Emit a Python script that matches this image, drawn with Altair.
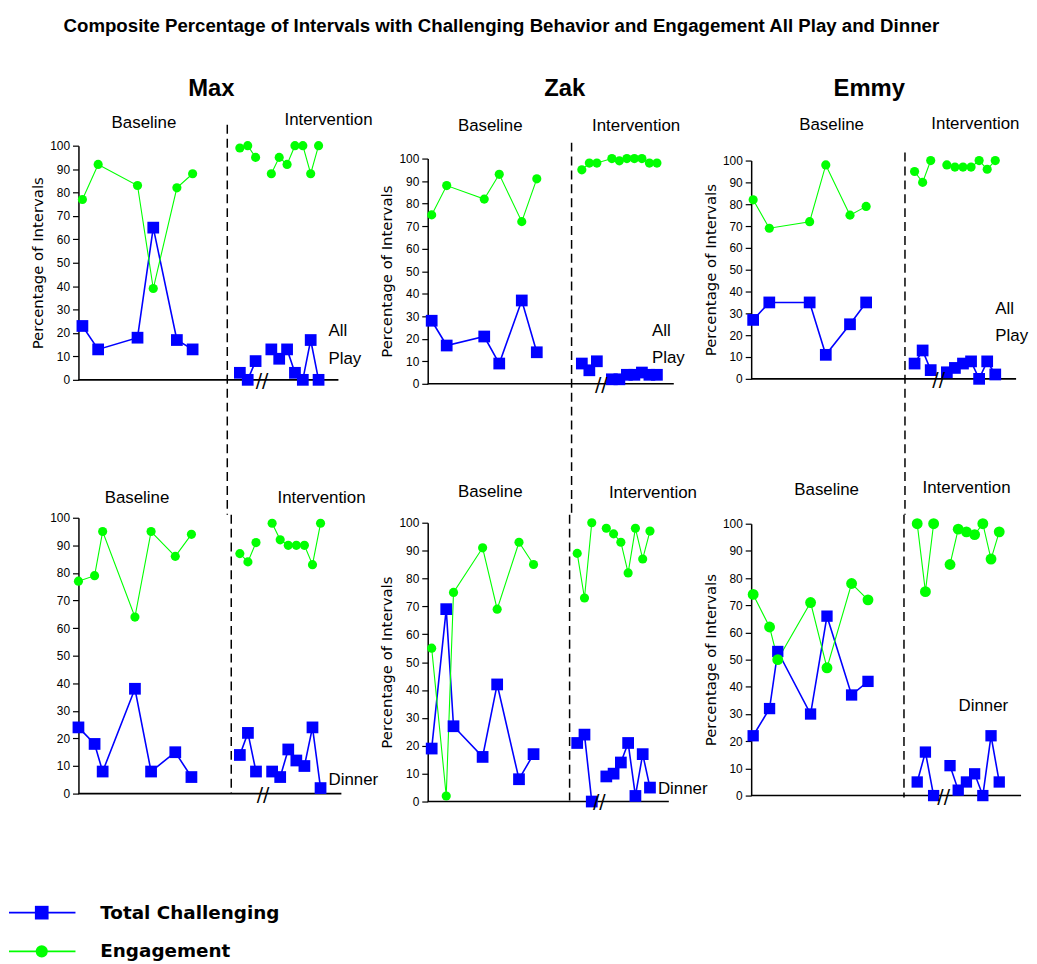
import altair as alt
import pandas as pd

# ---------------- data ----------------
TITLE = "Composite Percentage of Intervals with Challenging Behavior and Engagement  All Play and Dinner"
PARTICIPANTS = ["Max", "Zak", "Emmy"]
PHASES = ["Baseline", "Intervention"]
SETTING_LABELS = [["All", "Play"], ["Dinner"]]
MEASURES = ["Total Challenging", "Engagement"]
Y_TICKS = [0, 10, 20, 30, 40, 50, 60, 70, 80, 90, 100]
Y_TITLE = "Percentage of  Intervals"

SESS_BASE_PLAY = [0, 2, 7, 9, 12, 14]
SESS_BASE_DINNER = [0, 2, 3, 7, 9, 12, 14]
SESS_INT = [20, 21, 22, 24, 25, 26, 27, 28, 29, 30]

# All Play
MAX_AP_CB_BASE = [23, 13, 18, 65, 17, 13]
MAX_AP_EN_BASE = [77, 92, 83, 39, 82, 88]
MAX_AP_CB_INT = [3, 0, 8, 13, 9, 13, 3, 0, 17, 0]
MAX_AP_EN_INT = [99, 100, 95, 88, 95, 92, 100, 100, 88, 100]

ZAK_AP_CB_BASE = [28, 17, 21, 9, 37, 14]
ZAK_AP_EN_BASE = [75, 88, 82, 93, 72, 91]
ZAK_AP_CB_INT = [9, 6, 10, 2, 2, 4, 4, 5, 4, 4]
ZAK_AP_EN_INT = [95, 98, 98, 100, 99, 100, 100, 100, 98, 98]

EMMY_AP_CB_BASE = [27, 35, 35, 11, 25, 35]
EMMY_AP_EN_BASE = [82, 69, 72, 98, 75, 79]
EMMY_AP_CB_INT = [7, 13, 4, 3, 5, 7, 8, 0, 8, 2]
EMMY_AP_EN_INT = [95, 90, 100, 98, 97, 97, 97, 100, 96, 100]

# Dinner
MAX_DIN_CB_BASE = [24, 18, 8, 38, 8, 15, 6]
MAX_DIN_EN_BASE = [77, 79, 95, 64, 95, 86, 94]
MAX_DIN_CB_INT = [14, 22, 8, 8, 6, 16, 12, 10, 24, 2]
MAX_DIN_EN_INT = [87, 84, 91, 98, 92, 90, 90, 90, 83, 98]

ZAK_DIN_CB_BASE = [19, 69, 27, 16, 42, 8, 17]
ZAK_DIN_EN_BASE = [55, 2, 75, 91, 69, 93, 85]
ZAK_DIN_CB_INT = [21, 24, 0, 9, 10, 14, 21, 2, 17, 5]
ZAK_DIN_EN_INT = [89, 73, 100, 98, 96, 93, 82, 98, 87, 97]

EMMY_DIN_CB_BASE = [22, 32, 53, 30, 66, 37, 42]
EMMY_DIN_EN_BASE = [74, 62, 50, 71, 47, 78, 72]
EMMY_DIN_CB_INT = [5, 16, 0, 11, 2, 5, 8, 0, 22, 5]
EMMY_DIN_EN_INT = [100, 75, 100, 85, 98, 97, 96, 100, 87, 97]

BLUE = "#0000ff"
GREEN = "#00ff00"
LAB_FONT = "Liberation Sans"


def frame(base_sess, cb_b, en_b, cb_i, en_i, joined=()):
    rows = []
    for m, vb, vi in ((MEASURES[0], cb_b, cb_i), (MEASURES[1], en_b, en_i)):
        for s, v in zip(base_sess, vb):
            rows.append({"session": s, "value": v, "measure": m, "seg": "base"})
        for s, v in zip(SESS_INT, vi):
            seg = "int1" if (m in joined or s < 23) else "int2"
            rows.append({"session": s, "value": v, "measure": m, "seg": seg})
    return pd.DataFrame(rows)


def text_layer(text, x, y, size=17, weight="normal", align="left", font=LAB_FONT, baseline="middle"):
    return alt.Chart(pd.DataFrame({"label": [text]})).mark_text(
        align=align, baseline=baseline, font=font, fontSize=size, fontWeight=weight, color="black"
    ).encode(x=alt.value(x), y=alt.value(y), text="label:N")


def panel(df, sp, title, texts, sizes=(140, 85)):
    xs = alt.Scale(domain=[0, 30], range=sp["xr"])
    ys = alt.Scale(domain=[0, 100], range=sp["yr"])
    yaxis = alt.Axis(
        values=Y_TICKS, grid=False, title=title,
        domainColor="black", domainWidth=1.5, tickColor="black", tickWidth=1.2, tickSize=6,
        labelPadding=3, labelFont=LAB_FONT, labelFontSize=12, labelColor="black",
        titleFont="DejaVu Sans", titleFontSize=15, titleFontWeight="normal", titleColor="black",
        titlePadding=4,
    )
    color = alt.Color("measure:N", scale=alt.Scale(domain=MEASURES, range=[BLUE, GREEN]), legend=None)
    base = alt.Chart(df).encode(
        x=alt.X("session:Q", scale=xs, axis=None),
        y=alt.Y("value:Q", scale=ys, axis=yaxis),
        color=color,
    )
    lines = base.mark_line().encode(
        detail="seg:N",
        strokeWidth=alt.StrokeWidth("measure:N", scale=alt.Scale(domain=MEASURES, range=[1.6, 1.1]), legend=None),
    )
    points = base.mark_point(filled=True, opacity=1).encode(
        shape=alt.Shape("measure:N", scale=alt.Scale(domain=MEASURES, range=["square", "circle"]), legend=None),
        size=alt.Size("measure:N", scale=alt.Scale(domain=MEASURES, range=list(sizes)), legend=None),
    )
    one = pd.DataFrame({"k": [0]})
    xaxis_line = alt.Chart(one).mark_rule(color="black", strokeWidth=1.6).encode(
        x=alt.value(0), x2=alt.value(sp["axis_end"]), y=alt.value(sp["yr"][0])
    )
    dashed = alt.Chart(one).mark_rule(color="black", strokeWidth=1.5, strokeDash=[9, 5]).encode(
        x=alt.value(sp["dash_x"]), y=alt.value(sp["dash_y"][0]), y2=alt.value(sp["dash_y"][1])
    )
    brk = text_layer("//", sp["break_x"], sp["yr"][0] + 1, size=19, align="center", font="DejaVu Sans")
    layers = [xaxis_line, dashed, lines, points, brk]
    for t in texts:
        layers.append(text_layer(*t))
    return alt.layer(*layers).properties(width=sp["W"], height=sp["H"])


W1, W2, W3 = 292, 266, 272
H1, H2 = 245, 292

specs = {
    "max_ap": dict(W=W1, H=H1, xr=[4, 242], yr=[239, 3], axis_end=262, dash_x=150, dash_y=[-18, 375], break_x=185),
    "zak_ap": dict(W=W2, H=H1, xr=[4, 231], yr=[243, 16], axis_end=248, dash_x=145, dash_y=[0, 375], break_x=175),
    "emmy_ap": dict(W=W3, H=H1, xr=[2, 246], yr=[238, 18], axis_end=267, dash_x=155, dash_y=[10, 375], break_x=189),
    "max_din": dict(W=W1, H=H2, xr=[0, 244], yr=[281, 3], axis_end=265, dash_x=154, dash_y=[0, 281], break_x=186),
    "zak_din": dict(W=W2, H=H2, xr=[4, 224], yr=[289, 8], axis_end=243, dash_x=143, dash_y=[0, 288], break_x=173),
    "emmy_din": dict(W=W3, H=H2, xr=[2, 250], yr=[283, 9], axis_end=272, dash_x=154, dash_y=[0, 285], break_x=194),
}

p_max_ap = panel(
    frame(SESS_BASE_PLAY, MAX_AP_CB_BASE, MAX_AP_EN_BASE, MAX_AP_CB_INT, MAX_AP_EN_INT),
    specs["max_ap"], Y_TITLE,
    [
        (TITLE, -15, -127, 18.8, "bold", "left", LAB_FONT, "top"),
        (PARTICIPANTS[0], 134, -54, 24, "bold", "center"),
        (PHASES[0], 66, -20, 17, "normal", "center"),
        (PHASES[1], 252, -23, 17, "normal", "center"),
        (SETTING_LABELS[0][0], 252, 190),
        (SETTING_LABELS[0][1], 252, 218),
    ],
)
p_zak_ap = panel(
    frame(SESS_BASE_PLAY, ZAK_AP_CB_BASE, ZAK_AP_EN_BASE, ZAK_AP_CB_INT, ZAK_AP_EN_INT, joined=(MEASURES[1],)),
    specs["zak_ap"], Y_TITLE,
    [
        (PARTICIPANTS[1], 138, -54, 24, "bold", "center"),
        (PHASES[0], 63, -17, 17, "normal", "center"),
        (PHASES[1], 210, -17, 17, "normal", "center"),
        (SETTING_LABELS[0][0], 226, 190),
        (SETTING_LABELS[0][1], 226, 217),
    ],
)
p_emmy_ap = panel(
    frame(SESS_BASE_PLAY, EMMY_AP_CB_BASE, EMMY_AP_EN_BASE, EMMY_AP_CB_INT, EMMY_AP_EN_INT),
    specs["emmy_ap"], Y_TITLE,
    [
        (PARTICIPANTS[2], 119, -54, 24, "bold", "center"),
        (PHASES[0], 81, -18, 17, "normal", "center"),
        (PHASES[1], 226, -19, 17, "normal", "center"),
        (SETTING_LABELS[0][0], 246, 168),
        (SETTING_LABELS[0][1], 246, 195),
    ],
)
p_max_din = panel(
    frame(SESS_BASE_DINNER, MAX_DIN_CB_BASE, MAX_DIN_EN_BASE, MAX_DIN_CB_INT, MAX_DIN_EN_INT),
    specs["max_din"], "",
    [
        (PHASES[0], 59, -17, 17, "normal", "center"),
        (PHASES[1], 245, -17, 17, "normal", "center"),
        (SETTING_LABELS[1][0], 252, 267),
    ],
)
p_zak_din = panel(
    frame(SESS_BASE_DINNER, ZAK_DIN_CB_BASE, ZAK_DIN_EN_BASE, ZAK_DIN_CB_INT, ZAK_DIN_EN_INT),
    specs["zak_din"], Y_TITLE,
    [
        (PHASES[0], 63, -23, 17, "normal", "center"),
        (PHASES[1], 227, -22, 17, "normal", "center"),
        (SETTING_LABELS[1][0], 232, 276),
    ],
)
p_emmy_din = panel(
    frame(SESS_BASE_DINNER, EMMY_DIN_CB_BASE, EMMY_DIN_EN_BASE, EMMY_DIN_CB_INT, EMMY_DIN_EN_INT),
    specs["emmy_din"], Y_TITLE,
    [
        (PHASES[0], 76, -25, 17, "normal", "center"),
        (PHASES[1], 217, -27, 17, "normal", "center"),
        (SETTING_LABELS[1][0], 209, 193),
    ],
    sizes=(130, 120),
)

# ---------------- legend ----------------
legend_df = pd.DataFrame({"measure": MEASURES, "idx": [0, 1]})
ly = alt.Y("idx:Q", scale=alt.Scale(domain=[0, 1], range=[-21, 18]), axis=None)
lcolor = alt.Color("measure:N", scale=alt.Scale(domain=MEASURES, range=[BLUE, GREEN]), legend=None)
leg_base = alt.Chart(legend_df).encode(y=ly)
leg_rule = leg_base.mark_rule(strokeWidth=1.6).encode(x=alt.value(-70), x2=alt.value(-3), color=lcolor)
leg_pt = leg_base.mark_point(filled=True, opacity=1).encode(
    x=alt.value(-37),
    color=lcolor,
    shape=alt.Shape("measure:N", scale=alt.Scale(domain=MEASURES, range=["square", "circle"]), legend=None),
    size=alt.Size("measure:N", scale=alt.Scale(domain=MEASURES, range=[190, 150]), legend=None),
)
leg_txt = leg_base.mark_text(
    align="left", baseline="middle", font="DejaVu Sans", fontSize=18.5, fontWeight="bold", color="black"
).encode(x=alt.value(22), text="measure:N")
legend = alt.layer(leg_rule, leg_pt, leg_txt).properties(width=50, height=20)

chart = alt.concat(
    p_max_ap, p_zak_ap, p_emmy_ap, p_max_din, p_zak_din, p_emmy_din, legend,
    columns=3, spacing={"row": 130, "column": 60}, bounds="flush", align="each",
).resolve_scale(size="independent", color="independent", shape="independent", strokeWidth="independent").properties(
    padding={"left": 0, "top": 5, "right": 0, "bottom": 0}, background="white"
).configure_view(stroke=None)

chart.save("out.html", embed_options={"renderer": "svg", "actions": False})
